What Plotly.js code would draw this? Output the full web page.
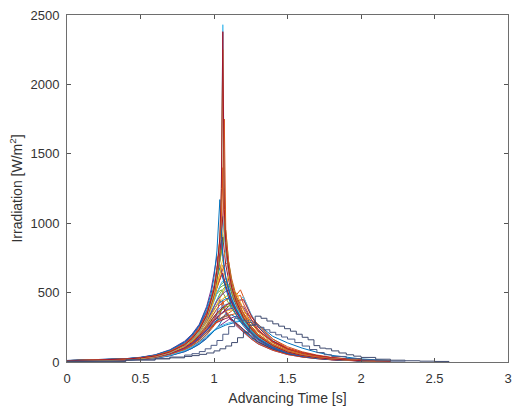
<!DOCTYPE html>
<html>
<head>
<meta charset="utf-8">
<script src="https://cdn.plot.ly/plotly-3.0.1.min.js"></script>
<style>html,body{margin:0;padding:0;background:#fff;}#chart{width:512px;height:410px;}</style>
</head>
<body>
<div id="chart"></div>
<script>
// Shared time grid (s) for the ordinary curves
const timeGrid = [0, 0.2, 0.4, 0.5, 0.6, 0.7, 0.8, 0.85, 0.9, 0.95, 0.98, 1.0, 1.02, 1.04, 1.05, 1.06, 1.07, 1.08, 1.1, 1.12, 1.15, 1.18, 1.2, 1.25, 1.3, 1.4, 1.5, 1.6, 1.7, 1.8, 2.0, 2.2];

// Irradiation curves (W/m^2)
const s01 = [8,12,19,27,40,68,118,160,220,320,420,500,640,860,1150,2430,1180,900,690,560,450,380,335,255,195,122,76,50,33,22,10,5];
const s02 = [9,13,21,29,43,72,124,168,232,335,440,520,660,900,1250,2380,1100,860,670,540,440,365,320,245,188,118,73,47,31,21,10,5];
const s03 = [8,11,18,26,41,70,121,165,228,330,425,505,650,880,1200,2250,1120,870,675,545,442,372,328,248,190,120,75,49,32,21,10,5];
const s04 = [10,14,22,30,46,78,130,178,245,345,450,540,680,880,1050,1350,1750,950,710,570,455,385,340,258,198,124,78,51,34,23,11,6];
const s05 = [9,12,20,28,42,74,125,170,236,338,438,520,650,850,1000,1400,980,820,650,530,430,360,318,242,185,116,72,47,31,20,9,5];
const s06 = [10,14,23,32,50,85,145,195,265,390,490,610,800,1170,900,760,680,610,520,450,380,320,285,220,170,108,68,45,30,20,9,5];
const s07 = [8,12,19,27,40,70,118,160,222,318,412,490,610,780,900,1050,1250,880,690,560,452,378,332,252,193,121,75,49,32,21,10,5];
const s08 = [9,13,21,29,44,76,128,174,240,342,440,520,640,820,930,1050,900,780,640,525,430,362,320,244,186,117,73,47,31,21,10,5];
const s09 = [9,13,20,28,42,72,122,166,228,322,410,482,590,720,800,870,920,950,720,580,462,388,340,258,197,123,77,50,33,22,10,5];
const s10 = [10,14,22,31,47,80,136,184,252,360,455,540,660,800,880,760,680,610,530,450,378,320,284,218,168,106,67,44,29,19,9,5];
const s11 = [8,11,18,25,38,66,112,152,210,300,380,450,540,640,700,750,780,800,660,545,445,375,330,252,192,120,75,49,32,21,10,5];
const s12 = [9,13,20,28,42,72,120,162,222,310,390,455,530,600,640,670,690,705,720,600,480,400,350,262,200,125,78,51,34,22,10,5];
const s13 = [11,15,24,33,50,84,142,192,260,370,462,540,620,680,640,600,560,520,460,400,340,290,260,200,155,98,62,41,27,18,8,4];
const s14 = [9,12,20,27,41,70,118,160,220,315,400,470,540,600,620,640,590,550,490,430,365,310,278,214,164,103,65,43,28,19,9,5];
const s15 = [8,12,19,26,40,68,115,156,214,300,375,435,495,550,570,585,595,600,540,470,395,335,298,228,175,110,69,45,30,20,9,5];
const s16 = [9,13,21,29,44,74,124,168,228,318,392,448,500,535,545,550,555,558,560,500,420,355,315,240,183,115,72,47,31,20,9,5];
const s17 = [8,12,19,27,41,70,118,158,214,292,355,400,440,470,482,492,500,508,515,520,460,390,345,262,200,125,78,51,33,22,10,5];
const s18 = [9,12,20,28,42,71,118,158,212,285,340,380,410,438,448,458,466,472,480,490,500,430,380,285,215,132,82,53,35,23,11,6];
const s19 = [8,11,18,26,39,66,110,148,198,265,318,355,385,410,420,430,438,445,455,462,470,480,420,315,235,143,88,57,37,24,11,6];
const s20 = [10,14,22,31,47,78,128,170,226,300,350,385,410,430,438,445,450,455,460,430,385,340,305,235,180,113,71,46,30,20,9,5];
const s21 = [8,11,17,24,37,63,105,140,188,250,298,330,355,375,385,395,402,410,420,430,440,445,450,340,250,150,92,59,38,25,11,6];
const s22 = [9,13,20,28,42,70,115,152,202,268,318,350,372,390,398,405,410,415,420,425,430,380,340,260,196,122,76,49,32,21,10,5];
const s23 = [9,12,19,27,40,68,112,148,196,258,302,330,350,368,376,384,390,396,402,410,370,330,300,232,178,112,70,46,30,20,9,5];
const s24 = [7,10,16,23,35,60,100,133,178,235,278,305,325,342,350,358,364,370,380,388,395,398,400,310,232,140,86,56,36,24,11,6];
const s25 = [8,11,18,25,38,64,106,140,185,242,282,308,326,340,347,354,360,366,372,376,380,350,320,248,188,117,73,47,31,21,10,5];
const s26 = [7,10,15,21,32,55,92,122,162,212,250,272,290,305,312,318,323,328,335,342,350,355,358,330,270,165,100,64,41,27,12,6];
const s27 = [8,11,17,24,36,60,99,130,172,225,262,285,300,312,318,323,328,332,336,340,320,292,270,212,165,104,66,43,28,19,9,5];
const s28 = [8,11,17,23,35,58,95,125,165,215,250,272,285,296,301,306,310,314,320,305,280,255,236,188,146,94,60,39,26,17,8,4];
const s29 = [7,9,14,20,30,50,82,108,142,185,215,235,248,258,263,268,272,276,282,288,294,298,300,240,185,115,72,47,31,20,9,5];
const s30 = [10,14,22,30,46,78,130,175,236,330,410,460,495,515,520,500,480,460,420,385,340,300,272,212,164,104,66,43,28,19,9,5];
const s31 = [11,15,24,34,52,88,150,200,272,400,520,640,760,700,650,610,570,540,475,420,360,305,272,210,162,102,65,43,28,19,9,5];
const s32 = [8,11,18,25,38,65,108,145,195,270,330,375,420,460,480,500,520,545,620,520,430,365,322,246,188,118,74,48,31,21,10,5];
const s33 = [7,10,15,21,31,52,85,112,148,195,232,260,290,330,380,440,400,370,335,305,270,238,216,170,132,85,54,36,24,16,7,4];
const s34 = [6,9,14,20,29,48,80,105,138,180,208,225,238,248,253,258,262,266,272,280,288,294,298,300,270,185,138,100,70,48,22,10];
const s35 = [8,11,17,24,36,60,100,132,175,230,270,295,318,338,348,358,368,378,400,430,470,420,380,290,225,150,100,68,46,31,14,7];
const s36 = [9,13,20,28,42,71,118,158,215,295,360,405,445,478,490,502,512,522,535,540,450,380,335,255,195,122,76,49,32,21,10,5];
const s37 = [9,12,19,27,41,70,118,160,222,315,392,450,505,545,560,572,578,580,520,455,385,330,295,226,173,108,68,45,29,19,9,5];
const s38 = [8,11,17,24,36,60,98,130,172,228,272,305,350,450,420,395,375,356,325,295,262,232,212,168,130,84,54,36,24,16,7,4];
const s39 = [10,14,22,30,46,78,132,178,242,345,430,495,570,640,670,700,640,600,520,450,380,322,287,220,169,106,67,44,29,19,9,5];
const s40 = [7,10,16,22,33,56,92,122,162,212,250,275,295,312,320,328,334,340,352,366,390,372,352,285,222,145,96,66,45,30,13,6];
const s41 = [6,9,14,19,28,46,75,98,128,168,198,220,245,275,295,315,335,350,330,305,272,245,225,178,140,90,58,38,25,17,8,4];
const s42 = [9,13,21,29,44,75,127,172,236,335,425,500,600,730,800,900,790,700,590,495,410,346,307,234,179,112,70,46,30,20,9,5];
const s43 = [8,11,17,24,36,61,101,134,178,236,278,306,328,346,354,362,368,374,384,396,420,450,470,350,258,155,95,61,39,26,12,6];
const s44 = [9,12,19,27,40,68,114,154,210,292,360,410,455,492,508,522,535,548,610,540,445,375,330,250,191,119,74,48,31,21,10,5];
const s45 = [6,8,13,18,27,45,74,98,130,172,205,228,245,262,270,278,286,294,306,318,330,312,292,232,180,115,72,47,31,20,9,5];
const s46 = [9,13,20,28,42,72,122,165,228,325,415,490,590,740,840,930,1000,820,640,525,430,362,320,244,187,117,73,47,31,21,10,5];
const s47 = [8,11,17,24,37,62,103,137,182,242,285,315,340,362,372,382,392,402,420,440,480,520,470,345,260,165,110,74,50,33,15,7];
const s48 = [7,10,15,21,31,52,86,114,150,200,240,270,305,350,375,400,380,362,338,312,282,252,232,184,144,93,60,39,26,17,8,4];

// Two stepped curves with their own time samples
const stepA_t = [0, 0.4, 0.6, 0.7, 0.8, 0.85, 0.9, 0.95, 1.0, 1.04, 1.08, 1.12, 1.16, 1.2, 1.24, 1.28, 1.32, 1.36, 1.4, 1.44, 1.48, 1.52, 1.56, 1.6, 1.64, 1.68, 1.72, 1.76, 1.8, 1.85, 1.9, 1.95, 2.0, 2.1, 2.2, 2.3, 2.4, 2.5, 2.6];
const stepA_v = [5, 14, 22, 30, 40, 46, 55, 65, 80, 95, 115, 140, 175, 215, 265, 330, 315, 295, 275, 258, 240, 222, 200, 178, 160, 118, 100, 95, 80, 65, 52, 42, 33, 20, 13, 9, 6, 4, 3];
const stepB_t = [0, 0.4, 0.6, 0.7, 0.8, 0.85, 0.9, 0.94, 0.98, 1.02, 1.06, 1.1, 1.14, 1.18, 1.22, 1.26, 1.3, 1.34, 1.38, 1.42, 1.46, 1.5, 1.55, 1.6, 1.65, 1.7, 1.75, 1.8, 1.9, 2.0, 2.1, 2.2, 2.3];
const stepB_v = [6, 16, 26, 36, 50, 60, 75, 95, 120, 155, 200, 255, 315, 300, 285, 268, 250, 232, 214, 196, 180, 165, 140, 115, 90, 68, 52, 40, 25, 15, 9, 6, 4];

const massSeries = [s48,s47,s46,s45,s44,s43,s42,s41,s40,s39,s38,s37,s36,s35,s34,s33,s32,s31,s30,s29,s28,s27,s26,s25,s24,s23,s22,s21,s20,s19,s18,s17,s16,s15,s14,s13,s12,s11,s10,s09,s08,s07,s06,s05];
const colorOrder = ['#0072BD','#D95319','#EDB120','#7E2F8E','#77AC30','#4DBEEE','#A2142F'];

const traces = massSeries.map((ys, i) => ({
  type: 'scatter', mode: 'lines', x: timeGrid, y: ys,
  line: {color: colorOrder[i % colorOrder.length], width: 1},
  hoverinfo: 'skip'
}));
// tallest spikes, drawn last (cyan tip, orange/red body)
[[s01,'#4DBEEE'],[s04,'#D95319'],[s03,'#EDB120'],[s02,'#A2142F']].forEach(([ys, c]) => {
  traces.push({type:'scatter', mode:'lines', x: timeGrid, y: ys, line:{color:c, width:1}, hoverinfo:'skip'});
});
traces.push({type:'scatter', mode:'lines', x: stepB_t, y: stepB_v, line:{color:'#4E5C86', width:1, shape:'hv'}, hoverinfo:'skip'});
traces.push({type:'scatter', mode:'lines', x: stepA_t, y: stepA_v, line:{color:'#3E4A6E', width:1, shape:'hv'}, hoverinfo:'skip'});

const FONT = 'Liberation Sans, Arial, sans-serif';
const axisCommon = {
  showgrid: false, zeroline: false, showline: true, mirror: 'ticks',
  linecolor: '#6e6e6e', linewidth: 1, ticks: 'inside', ticklen: 4,
  tickcolor: '#555', tickfont: {family: FONT, size: 13, color: '#333'}
};

const layout = {
  width: 512, height: 410,
  margin: {l: 67, r: 4, t: 15, b: 48},
  paper_bgcolor: '#fff', plot_bgcolor: '#fff',
  showlegend: false, hovermode: false,
  xaxis: Object.assign({}, axisCommon, {
    range: [0, 3], tickmode: 'linear', tick0: 0, dtick: 0.5, ticklabelstandoff: 4,
    title: {text: 'Advancing Time [s]', standoff: 8, font: {family: FONT, size: 14, color: '#333'}}
  }),
  yaxis: Object.assign({}, axisCommon, {
    range: [0, 2500], tickmode: 'linear', tick0: 0, dtick: 500, ticklabelstandoff: 4,
    title: {text: 'Irradiation [W/m<sup>2</sup>]', standoff: 4, font: {family: FONT, size: 14, color: '#333'}}
  })
};

Plotly.newPlot('chart', traces, layout, {staticPlot: true, displayModeBar: false});
</script>
</body>
</html>
